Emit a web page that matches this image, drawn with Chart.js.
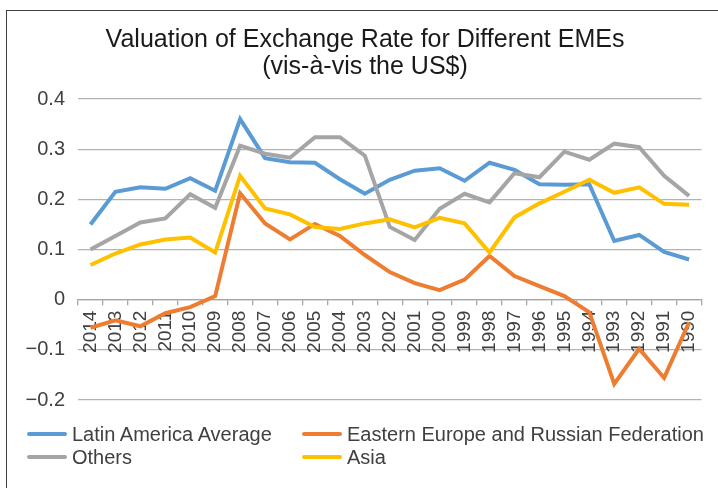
<!DOCTYPE html>
<html>
<head>
<meta charset="utf-8">
<script src="https://cdn.jsdelivr.net/npm/chart.js@4"></script>
<style>
body { margin: 0; background: #fff; overflow: hidden; }
#wrap { position: relative; width: 718px; height: 488px; overflow: hidden; }
#frame { position: absolute; left: 6px; top: 10px; width: 760px; height: 540px; border: 1.5px solid #404040; }
#sheet { position: absolute; left: 0; top: 0; }
.leg { position: absolute; height: 24px; line-height: 24px; font: 20px "Liberation Sans", Arial, sans-serif; color: #404040; white-space: nowrap; }
.leg span { display: inline-block; width: 40px; height: 4px; border-radius: 2px; vertical-align: middle; margin-right: 5px; margin-top: -3px; }
</style>
</head>
<body>
<div id="wrap">
	<div id="frame"></div>
	<canvas id="sheet" width="718" height="488"></canvas>
	<div id="legend"></div>
</div>
<script>
var years = ['2014', '2013', '2012', '2011', '2010', '2009', '2008', '2007', '2006', '2005', '2004', '2003', '2002',
	'2001', '2000', '1999', '1998', '1997', '1996', '1995', '1994', '1993', '1992', '1991', '1990'];
var latinAmerica = [0.150, 0.215, 0.224, 0.221, 0.242, 0.217, 0.360, 0.282, 0.274, 0.273, 0.240, 0.211, 0.239,
	0.257, 0.262, 0.237, 0.273, 0.259, 0.230, 0.229, 0.230, 0.117, 0.129, 0.095, 0.080];
var easternEurope = [-0.056, -0.041, -0.053, -0.027, -0.015, 0.007, 0.212, 0.152, 0.120, 0.151, 0.127, 0.089, 0.055,
	0.033, 0.019, 0.040, 0.087, 0.047, 0.027, 0.007, -0.025, -0.168, -0.098, -0.156, -0.045];
var others = [0.100, 0.127, 0.154, 0.162, 0.210, 0.183, 0.307, 0.291, 0.283, 0.324, 0.324, 0.287, 0.145,
	0.119, 0.181, 0.211, 0.194, 0.252, 0.244, 0.295, 0.279, 0.311, 0.304, 0.247, 0.207];
var asia = [0.069, 0.092, 0.110, 0.120, 0.124, 0.094, 0.247, 0.182, 0.170, 0.145, 0.141, 0.152, 0.160,
	0.144, 0.163, 0.152, 0.094, 0.164, 0.192, 0.215, 0.239, 0.213, 0.224, 0.191, 0.189];
var seriesNames = ['Latin America Average', 'Eastern Europe and Russian Federation', 'Others', 'Asia'];
var seriesColors = ['#5b9bd5', '#ed7d31', '#a5a5a5', '#ffc000'];
var seriesData = [latinAmerica, easternEurope, others, asia];

var datasets = [];
for (var i = 0; i < seriesNames.length; i++) {
	datasets.push({
		label: seriesNames[i],
		data: seriesData[i],
		borderColor: seriesColors[i],
		backgroundColor: seriesColors[i],
		borderWidth: 4,
		pointRadius: 0,
		tension: 0,
		order: seriesNames.length - i
	});
}

// legend in two columns, like the original
var legend = document.getElementById('legend');
for (var i = 0; i < seriesNames.length; i++) {
	var d = document.createElement('div');
	d.className = 'leg';
	d.style.left = (27 + (i % 2) * 275) + 'px';
	d.style.top = (423 + Math.floor(i / 2) * 23) + 'px';
	d.innerHTML = '<span style="background:' + seriesColors[i] + '"></span>' + seriesNames[i];
	legend.appendChild(d);
}

var font = '"Liberation Sans", Arial, sans-serif';
var ctx = document.getElementById('sheet').getContext('2d');
window.rateChart = new Chart(ctx, {
	type: 'line',
	data: { labels: years, datasets: datasets },
	options: {
		responsive: false,
		animation: false,
		layout: { padding: { left: 18, right: 6, top: 0, bottom: 88 } },
		plugins: {
			legend: { display: false },
			tooltip: { enabled: false },
			title: {
				display: true,
				text: ['Valuation of Exchange Rate for Different EMEs', '(vis-à-vis the US$)'],
				color: '#1a1a1a',
				font: { family: font, size: 25, weight: 'normal', lineHeight: 1.1 },
				padding: { top: 26, bottom: 18 }
			}
		},
		scales: {
			x: {
				type: 'category',
				position: { y: 0 },
				offset: true,
				grid: { display: true, drawOnChartArea: false, drawTicks: true, tickLength: 5, offset: true, color: '#a6a6a6', lineWidth: 1.3 },
				border: { display: true, color: '#a6a6a6', width: 1.3 },
				ticks: { autoSkip: false, minRotation: 90, maxRotation: 90, padding: 6, color: '#404040', font: { family: font, size: 19 } }
			},
			y: {
				min: -0.2,
				max: 0.4,
				afterFit: function (scale) { scale.width = 60; },
				grid: { color: '#b3b3b3', lineWidth: 1.3, drawTicks: false },
				border: { display: false },
				ticks: {
					stepSize: 0.1,
					padding: 13,
					color: '#404040',
					font: { family: font, size: 20 },
					callback: function (v) {
						if (Math.abs(v) < 1e-9) return '0';
						return v < 0 ? '\u2212' + Math.abs(v).toFixed(1) : v.toFixed(1);
					}
				}
			}
		}
	}
});
</script>
</body>
</html>
